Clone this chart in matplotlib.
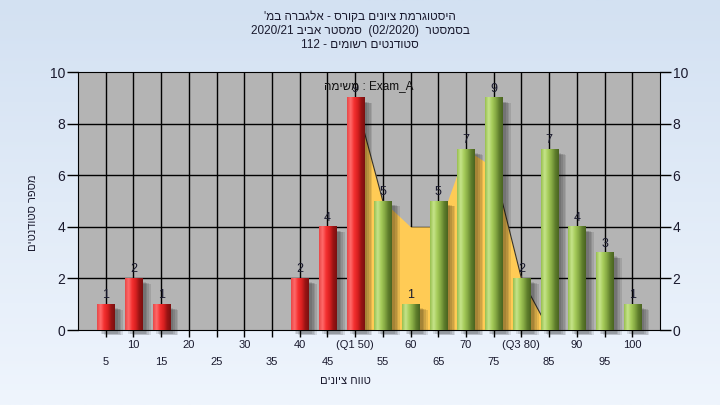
import matplotlib
matplotlib.use('Agg')

import re
import numpy as np
from matplotlib import pyplot as plt
from matplotlib.colors import LinearSegmentedColormap
from matplotlib.patches import Rectangle

plt.rcParams['font.family'] = ['Liberation Sans', 'DejaVu Sans']

# data
categories = [5, 10, 15, 20, 25, 30, 35, 40, 45, 50,
              55, 60, 65, 70, 75, 80, 85, 90, 95, 100]
counts = [1, 2, 1, 0, 0, 0, 0, 2, 4, 9,
          5, 1, 5, 7, 9, 2, 7, 4, 3, 1]
tick_labels = ['5', '10', '15', '20', '25', '30', '35', '40', '45', '(Q1 50)',
               '55', '60', '65', '70', '75', '(Q3 80)', '85', '90', '95', '100']
q1 = 50
area_cats = [50, 55, 60, 65, 70, 75, 80, 85]
area_vals = [9, 5, 4, 4, 7, 6.3, 2, 0]

title_lines = ["היסטוגרמת ציונים בקורס - אלגברה במ'",
               "בסמסטר  (02/2020)  סמסטר אביב 2020/21",
               "סטודנטים רשומים - 112"]
note = "Exam_A : משימה"
xlabel = "טווח ציונים"
ylabel = "מספר סטודנטים"

MIRROR = {'(': ')', ')': '(', '[': ']', ']': '['}


def rtl(s):
    # matplotlib has no bidi: lay the string out right-to-left by hand,
    # keeping latin/number runs in their own order
    toks = re.findall(r'[A-Za-z0-9_][A-Za-z0-9_/.]*|.', s)
    return ''.join(MIRROR.get(t, t) for t in reversed(toks))


text_col = '#1a1a2e'

fig = plt.figure(figsize=(7.2, 4.05), dpi=100)

# background gradient
bg = fig.add_axes([0, 0, 1, 1], zorder=-10)
grad = np.linspace(0, 1, 256).reshape(-1, 1)
bg_cmap = LinearSegmentedColormap.from_list('bg', ['#d3e1f2', '#eff5fd'])
bg.imshow(grad, aspect='auto', cmap=bg_cmap, extent=[0, 1, 0, 1])
bg.set_axis_off()

ax = fig.add_axes([78 / 720, 75 / 405, 582 / 720, 258 / 405])
ax.set_facecolor('#b4b4b4')

pos = np.arange(len(categories))

# grid
for p in pos:
    ax.axvline(p, color='black', lw=1, zorder=1)
for yv in [2, 4, 6, 8]:
    ax.axhline(yv, color='black', lw=1, zorder=1)

# yellow area between the quartiles
apos = [categories.index(c) for c in area_cats]
ax.fill_between(apos, 0, area_vals, color='#ffcb55', lw=0, zorder=2)
ax.plot(apos[:2], area_vals[:2], color='#333333', lw=0.8, zorder=2.5)
ax.plot(apos[5:], area_vals[5:], color='#333333', lw=0.8, zorder=2.5)

red_cmap = LinearSegmentedColormap.from_list(
    'red', ['#e84848', '#ff6a6a', '#f43030', '#d82020', '#9a1414', '#7a1010'])
green_cmap = LinearSegmentedColormap.from_list(
    'green', ['#98c050', '#c6e48a', '#a6cc5a', '#86aa44', '#5f7e2c', '#4a6420'])
hgrad = np.linspace(0, 1, 64).reshape(1, -1)

w = 0.62
for p, c, v in zip(pos, categories, counts):
    if v == 0:
        continue
    # soft shadow
    for k in range(4):
        off = 0.08 + 0.06 * k
        ax.add_patch(Rectangle((p - w / 2 + off + 0.05, -0.15 - 0.02 * k), w, v,
                               color='black', alpha=0.10, lw=0, zorder=3,
                               clip_on=False))
    cmap = red_cmap if c <= q1 else green_cmap
    ax.imshow(hgrad, aspect='auto', cmap=cmap, zorder=4,
              extent=[p - w / 2, p + w / 2, 0, v])
    ax.text(p, v + 0.12, str(v), ha='center', va='bottom', fontsize=9,
            color=text_col, zorder=6)

ax.set_xlim(-1, len(categories))
ax.set_ylim(0, 10)

# ticks
ax.set_xticks(pos)
ax.set_xticklabels([])
ax.tick_params(axis='x', direction='out', length=5, width=1)
ax.set_yticks(range(0, 11, 2))
ax.tick_params(axis='y', direction='out', length=8, width=1, labelsize=10,
               labelcolor=text_col, left=True, right=True,
               labelleft=True, labelright=True, pad=1)
for s in ax.spines.values():
    s.set_color('black')

xt = ax.get_xaxis_transform()
for p, lab in zip(pos, tick_labels):
    row = -0.058 if p % 2 == 1 else -0.125
    ax.text(p, row, lab, transform=xt, ha='center', va='center',
            fontsize=8, color=text_col)

ax.text(0.5, 0.945, rtl(note), transform=ax.transAxes, ha='center',
        va='center', fontsize=8.5, color='#111111', zorder=7)

fig.text(345 / 720, 1 - 381 / 405, rtl(xlabel), ha='center', va='center',
         fontsize=8, color=text_col)
fig.text(33 / 720, 1 - 213 / 405, rtl(ylabel), ha='center', va='center',
         rotation=90, fontsize=8, color=text_col)

for i, line in enumerate(title_lines):
    fig.text(360 / 720, 1 - (17 + 14 * i) / 405, rtl(line), ha='center',
             va='center', fontsize=8.5, color=text_col)

plt.savefig('out.png', dpi=100)
